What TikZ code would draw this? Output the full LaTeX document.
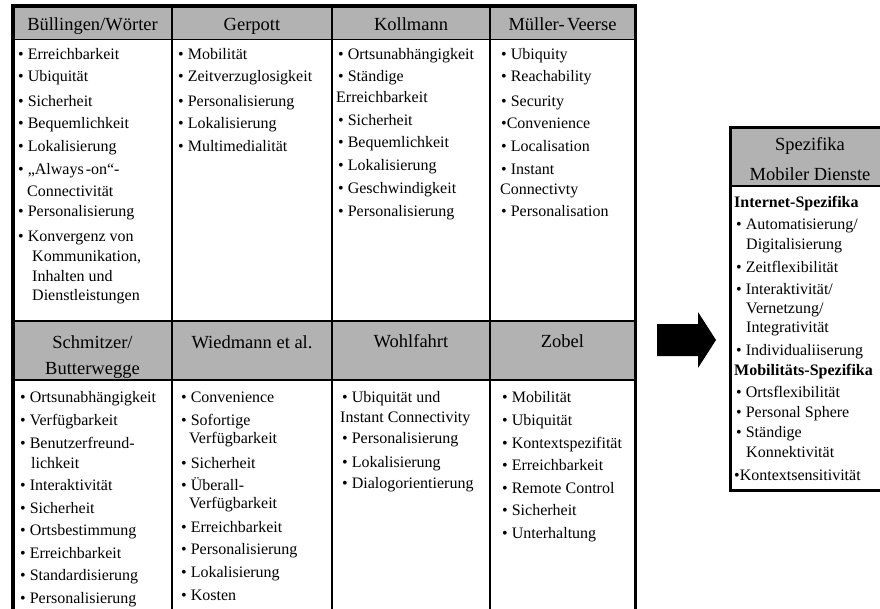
\documentclass[tikz,border=0pt]{standalone}
\usepackage{fontspec}
\setmainfont{Liberation Serif}
\definecolor{hdrgray}{RGB}{178,178,178}
\begin{document}
\begin{tikzpicture}[x=1pt,y=-1pt,
  itm/.style={anchor=base west,inner sep=0pt,font=\fontsize{16}{19}\selectfont},
  hd/.style={anchor=base,inner sep=0pt,font=\fontsize{18.5}{22}\selectfont},
  thinrule/.style={line width=1.6pt},
  hdrfill/.style={fill=hdrgray}]
\useasboundingbox (0,0) rectangle (880,609);
% ---------------- left table ----------------
\fill[hdrfill] (13,6) rectangle (635,39.5);
\fill[hdrfill] (13,321) rectangle (635,380);
\draw[thinrule] (13,39.5) -- (635,39.5);
\draw[thinrule] (13,321) -- (635,321);
\draw[thinrule] (13,380) -- (635,380);
\foreach \x in {172,332,490} \draw[thinrule] (\x,6) -- (\x,630);
\draw[line width=4.5pt] (13,630) -- (13,6);
\draw[line width=4pt] (11,6) -- (637,6);
\draw[line width=3.5pt] (635.5,6) -- (635.5,630);
% headers row 1
\node[hd] (h1) at (92.5,31) {Büllingen/Wörter};
\node[hd] (h2) at (252,31) {Gerpott};
\node[hd] (h3) at (411,31) {Kollmann};
\node[hd] (h4) at (562.5,31) {Müller-\hspace{2.5pt}Veerse};
% headers row 2
\node[hd] (h5) at (92.5,348) {Schmitzer/};
\node[hd] (h5b) at (92.5,374) {Butterwegge};
\node[hd] (h6) at (252,348) {Wiedmann et al.};
\node[hd] (h7) at (411,347) {Wohlfahrt};
\node[hd] (h8) at (562.5,347) {Zobel};
% row 1 bodies
\foreach \x/\y/\t [count=\i] in {
  18/55/{• Erreichbarkeit}, 18/77/{• Ubiquität}, 18/102/{• Sicherheit},
  18/124/{• Bequemlichkeit}, 18/147/{• Lokalisierung}, 18/170/{• „Always\hspace{2pt}-on“-},
  27/192/{Connectivität}, 18/212/{• Personalisierung}, 18/237/{• Konvergenz von},
  32/257/{Kommunikation,}, 32/277/{Inhalten und}, 32/296/{Dienstleistungen}}
  \node[itm] (a\i) at (\x,\y+5) {\t};
\foreach \x/\y/\t [count=\i] in {
  178/55/{• Mobilität}, 178/77/{• Zeitverzuglosigkeit}, 178/102/{• Personalisierung},
  178/124/{• Lokalisierung}, 178/147/{• Multimedialität}}
  \node[itm] (b\i) at (\x,\y+5) {\t};
\foreach \x/\y/\t [count=\i] in {
  338/55/{• Ortsunabhängigkeit}, 338/77/{• Ständige}, 336/98/{Erreichbarkeit},
  338/121/{• Sicherheit}, 338/143/{• Bequemlichkeit}, 338/166/{• Lokalisierung},
  338/189/{• Geschwindigkeit}, 338/212/{• Personalisierung}}
  \node[itm] (c\i) at (\x,\y+5) {\t};
\foreach \x/\y/\t [count=\i] in {
  501/55/{• Ubiquity}, 501/77/{• Reachability}, 501/102/{• Security},
  501/124/{•Convenience}, 501/147/{• Localisation}, 501/170/{• Instant},
  500/190/{Connectivty}, 501/212/{• Personalisation}}
  \node[itm] (d\i) at (\x,\y+5) {\t};
% row 2 bodies
\foreach \x/\y/\t [count=\i] in {
  20/397/{• Ortsunabhängigkeit}, 20/420/{• Verfügbarkeit}, 20/443/{• Benutzerfreund-},
  31/463/{lichkeit}, 20/485/{• Interaktivität}, 20/508/{• Sicherheit},
  20/530/{• Ortsbestimmung}, 20/553/{• Erreichbarkeit}, 20/575/{• Standardisierung},
  20/598/{• Personalisierung}}
  \node[itm] (e\i) at (\x,\y+5) {\t};
\foreach \x/\y/\t [count=\i] in {
  181/397/{• Convenience}, 181/420/{• Sofortige}, 189/438/{Verfügbarkeit},
  181/463/{• Sicherheit}, 181/485/{• Überall-}, 189/503/{Verfügbarkeit},
  181/527/{• Erreichbarkeit}, 181/549/{• Personalisierung}, 181/572/{• Lokalisierung},
  181/595/{• Kosten}}
  \node[itm] (f\i) at (\x,\y+5) {\t};
\foreach \x/\y/\t [count=\i] in {
  342/397/{• Ubiquität und}, 340/417/{Instant Connectivity}, 342/438/{• Personalisierung},
  342/462/{• Lokalisierung}, 342/483/{• Dialogorientierung}}
  \node[itm] (g\i) at (\x,\y+5) {\t};
\foreach \x/\y/\t [count=\i] in {
  502/397/{• Mobilität}, 502/420/{• Ubiquität}, 502/443/{• Kontextspezifität},
  502/465/{• Erreichbarkeit}, 502/488/{• Remote Control}, 502/510/{• Sicherheit},
  502/533/{• Unterhaltung}}
  \node[itm] (k\i) at (\x,\y+5) {\t};
% ---------------- arrow ----------------
\fill (657,324) -- (698,324) -- (698,312) -- (716,340) -- (698,368) -- (698,356) -- (657,356) -- cycle;
% ---------------- right box ----------------
\fill[hdrfill] (730,127) rectangle (889,186);
\draw[line width=2pt] (730,186) -- (889,186);
\draw[line width=3pt] (889,127.5) -- (730.5,127.5) -- (730.5,490) -- (889,490);
\node[hd] (s1) at (810,151) {Spezifika};
\node[hd] (s2) at (810,181) {Mobiler Dienste};
\foreach \x/\y/\t [count=\i] in {
  734/203/{\bfseries Internet-Spezifika}, 736/225/{• Automatisierung/},
  746/245/{Digitalisierung}, 736/268/{• Zeitflexibilität}, 736/290/{• Interaktivität/},
  746/308/{Vernetzung/}, 746/327/{Integrativität}, 736/350/{• Individualiiserung},
  734/370/{\bfseries Mobilitäts-Spezifika}, 736/392/{• Ortsflexibilität},
  736/412/{• Personal Sphere}, 736/432/{• Ständige}, 746/452/{Konnektivität},
  734/475/{•Kontextsensitivität}}
  \node[itm] (m\i) at (\x,\y+5) {\t};
\end{tikzpicture}
\end{document}
